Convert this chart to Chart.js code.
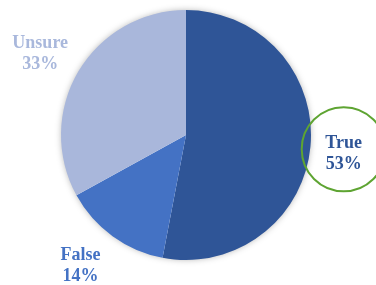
<!DOCTYPE html>
<html>
<head>
<meta charset="utf-8">
<script src="https://cdn.jsdelivr.net/npm/chart.js@4.4.0/dist/chart.umd.min.js"></script>
<style>
  html, body { margin: 0; padding: 0; background: #fff; }
  #wrap { width: 376px; height: 285px; }
</style>
</head>
<body>
<div id="wrap"><canvas id="pieChart" width="376" height="285"></canvas></div>
<script>
const labels = ["True", "False", "Unsure"];
const values = [53, 14, 33];
const sliceColors = ["#2f5597", "#4472c4", "#a9b7db"];
const textColors = ["#2f5597", "#4472c4", "#a9b8dc"];
const labelDist = [1.27, 1.34, 1.335];
const labelNudge = [1.2, 3, -1.5]; // degrees

// soft grey shadow behind the pie
const shadowPlugin = {
  id: "pieShadow",
  beforeDatasetsDraw(chart) {
    const arc = chart.getDatasetMeta(0).data[0];
    if (!arc) return;
    const ctx = chart.ctx;
    ctx.save();
    ctx.shadowColor = "rgba(0,0,0,0.35)";
    ctx.shadowBlur = 7;
    ctx.fillStyle = "#fff";
    ctx.beginPath();
    ctx.arc(arc.x, arc.y, arc.outerRadius - 1, 0, Math.PI * 2);
    ctx.fill();
    ctx.restore();
  }
};

// outside labels + green ring round "True"
const labelPlugin = {
  id: "outLabels",
  afterDatasetsDraw(chart) {
    const ctx = chart.ctx;
    const meta = chart.getDatasetMeta(0);
    ctx.save();
    ctx.font = "bold 18px 'Liberation Serif', 'Times New Roman', serif";
    ctx.textAlign = "center";
    ctx.textBaseline = "middle";
    meta.data.forEach((arc, i) => {
      const mid = (arc.startAngle + arc.endAngle) / 2 + labelNudge[i] * Math.PI / 180;
      const d = arc.outerRadius * labelDist[i];
      const x = arc.x + Math.cos(mid) * d;
      const y = arc.y + Math.sin(mid) * d;
      ctx.fillStyle = textColors[i];
      ctx.fillText(labels[i], x, y - 10);
      ctx.fillText(values[i] + "%", x, y + 11);
      if (i === 0) {
        ctx.strokeStyle = "#5ea432";
        ctx.lineWidth = 2;
        ctx.beginPath();
        ctx.arc(x, y - 4, 42, 0, Math.PI * 2);
        ctx.stroke();
      }
    });
    ctx.restore();
  }
};

const ctx = document.getElementById("pieChart").getContext("2d");
const chart = new Chart(ctx, {
  type: "pie",
  data: {
    labels: labels,
    datasets: [{
      data: values,
      backgroundColor: sliceColors,
      borderWidth: 0
    }]
  },
  options: {
    responsive: false,
    animation: false,
    layout: { padding: { left: 0, right: 4, top: 10, bottom: 25 } },
    plugins: {
      legend: { display: false },
      tooltip: { enabled: false }
    }
  },
  plugins: [shadowPlugin, labelPlugin]
});
</script>
</body>
</html>
